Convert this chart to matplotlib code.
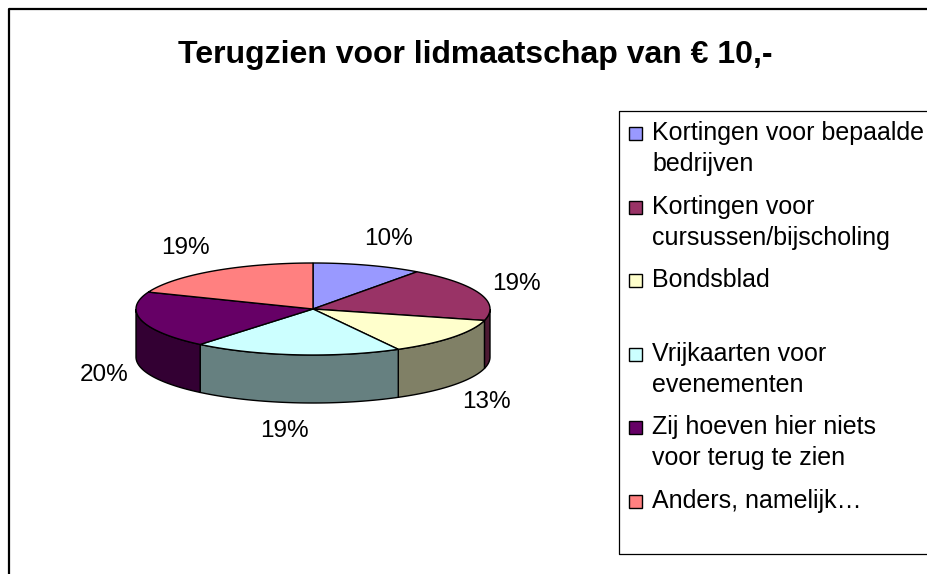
import numpy as np
import matplotlib
matplotlib.use("Agg")
import matplotlib.pyplot as plt
from matplotlib.patches import Polygon, Rectangle
from matplotlib.lines import Line2D

plt.rcParams['font.family'] = ['Liberation Sans', 'DejaVu Sans']

# ---- data ----
title = "Terugzien voor lidmaatschap van € 10,-"
categories = [
    "Kortingen voor bepaalde\nbedrijven",
    "Kortingen voor\ncursussen/bijscholing",
    "Bondsblad",
    "Vrijkaarten voor\nevenementen",
    "Zij hoeven hier niets\nvoor terug te zien",
    "Anders, namelijk\u2026",
]
values = [10, 19, 13, 19, 20, 19]
top_colors = ["#9999FF", "#993366", "#FFFFCC", "#CCFFFF", "#660066", "#FF8080"]

W, H = 928, 574
fig = plt.figure(figsize=(W / 100, H / 100), dpi=100)
ax = fig.add_axes([0, 0, 1, 1])
ax.set_xlim(0, W)
ax.set_ylim(H, 0)
ax.axis('off')

# chart area border (left/top visible; right/bottom clipped)
ax.add_line(Line2D([9, 9, W + 5], [H + 5, 8.5, 8.5], color='black', lw=1.6, zorder=10))

ax.text(475, 55, title, ha='center', va='center', fontsize=23, fontweight='bold')

# ---- 3D pie ----
cx, cy, a, b, depth = 313, 309, 177, 46, 48


def shade(c, f=0.5):
    r, g, bb = matplotlib.colors.to_rgb(c)
    return (r * f, g * f, bb * f)


def ell(th):
    th = np.radians(th)
    return cx + a * np.cos(th), cy - b * np.sin(th)


total = float(sum(values))
cum = np.concatenate([[0], np.cumsum(values)]) / total
for i, (v, col) in enumerate(zip(values, top_colors)):
    t0 = 90 - 360 * cum[i]
    t1 = 90 - 360 * cum[i + 1]
    # side wall (front half only: -180..0)
    lo, hi = max(t1, -180), min(t0, 0)
    if lo < hi:
        th = np.linspace(hi, lo, 80)
        xs, ys = ell(th)
        pts = np.column_stack([np.concatenate([xs, xs[::-1]]),
                               np.concatenate([ys, ys[::-1] + depth])])
        ax.add_patch(Polygon(pts, closed=True, facecolor=shade(col),
                             edgecolor='black', lw=1.0, zorder=2))
    th = np.linspace(t0, t1, 120)
    xs, ys = ell(th)
    pts = np.column_stack([np.concatenate([[cx], xs]), np.concatenate([[cy], ys])])
    ax.add_patch(Polygon(pts, closed=True, facecolor=col, edgecolor='black',
                         lw=1.0, zorder=3))

    # percentage label
    tm = np.radians(90 - 360 * (cum[i] + cum[i + 1]) / 2)
    ex = cx + a * np.cos(tm)
    ey = cy - b * np.sin(tm) + (depth if np.sin(tm) < 0 else 0)
    lx = ex + np.sign(np.cos(tm)) * 38 * np.sqrt(abs(np.cos(tm)))
    ly = ey - np.sin(tm) * 28
    ax.text(lx, ly, f"{v / total * 100:.0f}%", ha='center', va='center',
            fontsize=17.5, zorder=5)

# ---- legend ----
lx0, ly0, ly1 = 619.5, 110.5, 554
ax.add_line(Line2D([W + 5, lx0, lx0, W + 5], [ly0, ly0, ly1, ly1],
                   color='black', lw=0.9, zorder=6))
slot = 73.6
line_gap = 31
for i, (lab, col) in enumerate(zip(categories, top_colors)):
    ty = 132 + i * slot
    ax.add_patch(Rectangle((629.5, ty - 5), 13, 13, facecolor=col,
                           edgecolor='black', lw=1.0, zorder=7))
    for j, line in enumerate(lab.split("\n")):
        ax.text(652, ty + j * line_gap + 8, line, ha='left', va='baseline',
                fontsize=18, zorder=7)

fig.savefig("out.png", dpi=100)
